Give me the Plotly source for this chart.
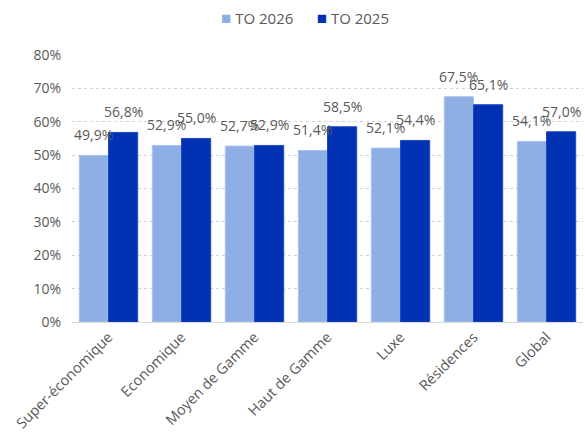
import plotly.graph_objects as go

categories = ["Super-économique", "Economique", "Moyen de Gamme", "Haut de Gamme",
              "Luxe", "Résidences", "Global"]
to_2026 = [49.9, 52.9, 52.7, 51.4, 52.1, 67.5, 54.1]
to_2025 = [56.8, 55.0, 52.9, 58.5, 54.4, 65.1, 57.0]
tick_vals = [0, 10, 20, 30, 40, 50, 60, 70, 80]
tick_text = [f"{v}%" for v in tick_vals]


def fr_pct(v):
    return f"{v:.1f}".replace(".", ",") + "%"


FONT = "'Open Sans', 'Noto Sans', sans-serif"
GRAY = "#595959"
W, H = 585, 434
M_L, M_R, M_T, M_B = 72, 2, 55, 112
series = [("TO 2026", to_2026, "#8EAFE4", "#a9c3ee", -1),
          ("TO 2025", to_2025, "#0132B4", "#1f49c0", 1)]

fig = go.Figure()
for name, vals, color, edge, side in series:
    fig.add_trace(go.Bar(
        x=categories, y=vals, name=name, showlegend=False,
        marker=dict(color=color, line=dict(color=edge, width=1)),
    ))

# value labels placed above each bar of the group
plot_w = W - M_L - M_R
plot_h = H - M_T - M_B
half_bar = plot_w / len(categories) * 0.8 / 4
labels = []
for name, vals, color, edge, side in series:
    for c, v in zip(categories, vals):
        labels.append(dict(
            x=c, y=v, text=fr_pct(v), showarrow=False, xref="x", yref="y",
            xanchor="center", yanchor="bottom", xshift=side * half_bar, yshift=9,
            font=dict(family=FONT, size=14, color=GRAY),
        ))

# legend: small coloured square followed by the series name
sq = "<span style='color:{c};font-size:17px'>■</span> {n}"
legend_text = (sq.format(c=series[0][2], n=series[0][0]) + "      "
               + sq.format(c=series[1][2], n=series[1][0]))
legend = [dict(
    text=legend_text,
    x=(305 - M_L) / plot_w, y=1 + (M_T - 17) / plot_h,
    xref="paper", yref="paper", xanchor="center", yanchor="middle",
    showarrow=False, font=dict(family=FONT, size=15, color=GRAY),
)]

fig.update_layout(
    width=W, height=H,
    margin=dict(l=M_L, r=M_R, t=M_T, b=M_B),
    paper_bgcolor="white", plot_bgcolor="white",
    barmode="group", bargap=0.2, bargroupgap=0,
    font=dict(family=FONT, size=14, color=GRAY),
    annotations=labels + legend,
)
fig.update_xaxes(tickangle=-45, showline=True, linecolor="#d9d9d9", linewidth=1,
                 ticks="", automargin=False,
                 tickfont=dict(family=FONT, size=14.5, color=GRAY))
fig.update_yaxes(range=[0, 80], tickvals=tick_vals, ticktext=tick_text,
                 showgrid=True, gridcolor="#d0d0d0", griddash="dot", gridwidth=1,
                 zeroline=False, ticks="", ticklabelstandoff=10, automargin=False,
                 tickfont=dict(family=FONT, size=14, color=GRAY))

fig.write_html("out.html")
